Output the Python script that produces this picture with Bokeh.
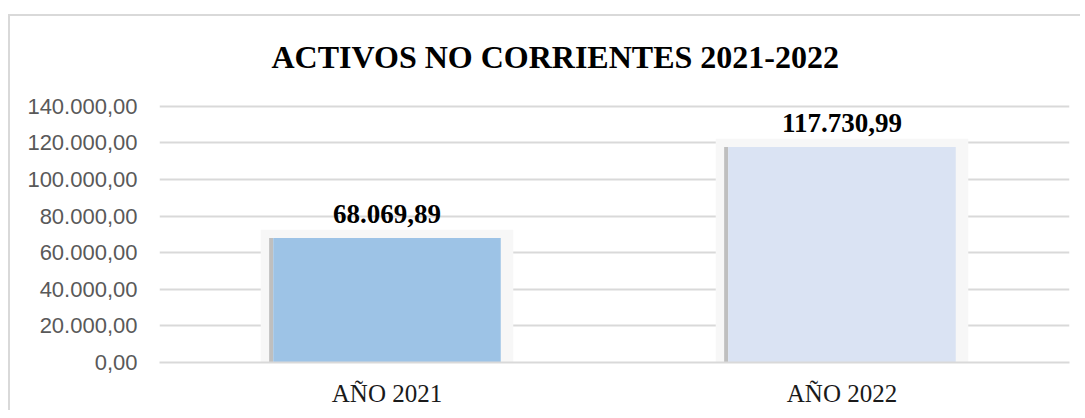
from bokeh.plotting import figure
from bokeh.models import Range1d, FactorRange, FixedTicker, ColumnDataSource, LabelSet, Title
from bokeh.transform import dodge
from bokeh.embed import file_html
from bokeh.resources import INLINE

# ---- data ----
categories = ["AÑO 2021", "AÑO 2022"]
values = [68069.89, 117730.99]
value_labels = ["68.069,89", "117.730,99"]
bar_colors = ["#9DC3E6", "#DAE3F3"]
y_ticks = [0, 20000, 40000, 60000, 80000, 100000, 120000, 140000]
y_tick_labels = ["0,00", "20.000,00", "40.000,00", "60.000,00",
                 "80.000,00", "100.000,00", "120.000,00", "140.000,00"]
title_text = "ACTIVOS NO CORRIENTES 2021-2022"

bar_w = 0.5

src = ColumnDataSource(dict(x=categories, top=values, color=bar_colors, label=value_labels,
                            halo_top=[v + 4500 for v in values]))

p = figure(width=1080, height=410, output_backend="svg", toolbar_location=None,
           x_range=FactorRange(*categories, range_padding=0), y_range=Range1d(0, 141000),
           min_border_left=159, min_border_right=11, min_border_top=104,
           min_border_bottom=48)
# outer chart frame (top and left edges) drawn as a CSS background behind the canvas
p.styles = {
    "background-image": "linear-gradient(#d9d9d9, #d9d9d9), linear-gradient(#d9d9d9, #d9d9d9)",
    "background-size": "100% 2px, 2px 100%",
    "background-position": "8px 14px, 8px 14px",
    "background-repeat": "no-repeat",
}
p.outline_line_color = None
p.background_fill_color = "white"
p.border_fill_color = None

p.title = Title(text=title_text, align="left", offset=112,
                text_font="Liberation Serif", text_font_size="32px",
                text_font_style="bold", text_color="black", standoff=60)

# shadows / halo
p.vbar(x="x", top="halo_top", width=bar_w + 0.055, bottom=0, source=src,
       fill_color="#f7f7f7", line_color=None)
p.vbar(x=dodge("x", -bar_w / 2 - 0.0045, range=p.x_range), top="top", width=0.009,
       bottom=0, source=src, fill_color="#bfbfbf", line_color=None)
p.vbar(x="x", top="top", width=bar_w, bottom=0, source=src,
       fill_color="color", line_color=None)

labels = LabelSet(x="x", y="top", text="label", source=src, y_offset=15,
                  text_align="center", text_baseline="bottom",
                  text_font="Liberation Serif", text_font_size="27px",
                  text_font_style="bold", text_color="black")
p.add_layout(labels)

# axes
p.xaxis.major_label_text_font = "Liberation Serif"
p.xaxis.major_label_text_font_size = "25px"
p.xaxis.major_label_text_color = "#1a1a1a"
p.xaxis.major_label_standoff = 11
p.xaxis.axis_line_color = "#d9d9d9"
p.xaxis.axis_line_width = 2
p.xaxis.major_tick_line_color = None
p.xaxis.minor_tick_line_color = None

p.yaxis.ticker = FixedTicker(ticks=y_ticks)
p.yaxis.major_label_overrides = {t: l for t, l in zip(y_ticks, y_tick_labels)}
p.yaxis.major_label_text_font = "Liberation Sans"
p.yaxis.major_label_text_font_size = "22px"
p.yaxis.major_label_text_color = "#595959"
p.yaxis.major_label_standoff = 16
p.yaxis.axis_line_color = None
p.yaxis.major_tick_line_color = None
p.yaxis.minor_tick_line_color = None

p.xgrid.grid_line_color = None
p.ygrid.grid_line_color = "#d9d9d9"
p.ygrid.grid_line_width = 2
p.ygrid.ticker = FixedTicker(ticks=y_ticks)

open("out.html", "w").write(file_html(p, INLINE))
